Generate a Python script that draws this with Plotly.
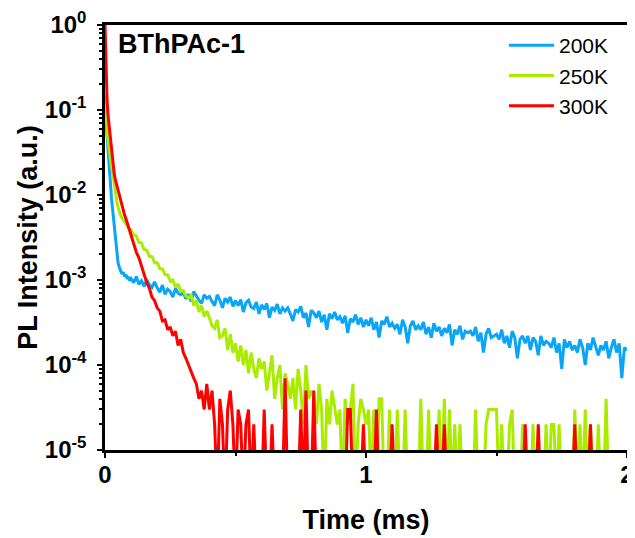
import numpy as np
import plotly.graph_objects as go

# time axis (ms): dense sampling for the fast part, then 10 us steps
t_early = [0, 0.004, 0.008, 0.012, 0.016, 0.02, 0.025, 0.03, 0.035, 0.04,
           0.045, 0.05, 0.055, 0.06, 0.065, 0.07, 0.075, 0.08, 0.085, 0.09, 0.095]
t_tail = np.round(np.arange(0.10, 2.001, 0.01), 2)

# normalised PL intensity in units of 1e-5 (0 = below detection floor)
blue_early = [11000, 7000, 4800, 3500, 2300, 1500, 900, 620, 420, 300,
              200, 160, 140, 128, 118, 124, 110, 116, 103, 109, 98]
blue_tail = [
    104, 93, 110, 89, 98, 84, 101, 88, 82, 95,
    81, 72, 87, 68, 78, 73, 63, 80, 70, 67,
    71, 60, 68, 56, 73, 64, 58, 53, 67, 61,
    64, 56, 50, 67, 58, 47, 61, 55, 63, 49,
    57, 50, 59, 42, 54, 58, 48, 46, 55, 40,
    51, 45, 53, 36, 48, 44, 52, 40, 47, 43,
    47, 40, 33, 45, 42, 49, 36, 41, 28, 44,
    41, 36, 43, 32, 39, 26, 40, 35, 42, 34,
    37, 31, 38, 24, 35, 32, 39, 30, 36, 28,
    34, 29, 36, 26, 32, 21, 33, 30, 37, 28,
    31, 27, 30, 23, 34, 28, 18, 29, 33, 26,
    29, 26, 32, 23, 28, 21, 31, 25, 28, 22,
    27, 24, 30, 17, 26, 23, 29, 20, 25, 24,
    25, 22, 28, 19, 24, 14, 23, 27, 21, 22,
    23, 20, 26, 18, 22, 16, 25, 21, 12, 20,
    22, 18, 22, 15, 21, 19, 13, 22, 17, 19,
    18, 16, 21, 14, 18, 9, 20, 16, 19, 15,
    17, 14, 20, 16, 10, 18, 15, 21, 16, 13,
    17, 15, 19, 12, 16, 20, 14, 18, 7, 16,
    15,
]

green_early = [15000, 8500, 5800, 4300, 3300, 2600, 2100, 1800, 1350, 1050,
               850, 720, 630, 575, 540, 510, 480, 455, 430, 410, 390]
green_tail = [
    392, 338, 330, 276, 272, 228, 224, 190, 188, 160,
    160, 136, 135, 116, 115, 97, 100, 82, 90, 74,
    75, 65, 62, 66, 50, 58, 42, 50, 37, 43,
    36, 29, 27, 34, 21, 22, 27, 15, 23, 14,
    18, 11, 17, 10, 15, 8, 14, 9, 7, 12,
    9, 11, 5, 8, 13, 4, 7, 10, 3, 8,
    6, 4, 7, 3, 9, 5, 2, 10, 4, 5,
    4, 2, 6, 3, 0, 4, 2, 5, 3, 2,
    3, 0, 4, 2, 3, 6, 0, 2, 4, 3,
    2, 3, 0, 3, 0, 4, 4, 0, 0, 3,
    0, 0, 3, 0, 0, 3, 0, 0, 0, 0,
    0, 4, 0, 0, 3, 0, 0, 0, 3, 0,
    4, 0, 3, 0, 2, 0, 2, 0, 0, 0,
    0, 0, 3, 0, 0, 0, 2, 3, 3, 3,
    3, 0, 2, 0, 0, 2, 3, 0, 0, 0,
    2, 0, 0, 0, 2, 0, 0, 0, 0, 2,
    0, 2, 2, 0, 2, 0, 0, 0, 0, 0,
    3, 0, 2, 0, 3, 0, 2, 0, 0, 2,
    0, 0, 4, 0, 0, 0, 0, 0, 0, 0, 0,
]

red_early = [100000, 28000, 13000, 8500, 6300, 5000, 3600, 2300, 1800, 1500,
             1300, 1120, 960, 830, 720, 640, 580, 530, 470, 410, 360]
red_tail = [
    330, 268, 212, 182, 146, 122, 93, 80, 63, 57,
    47, 43, 33, 34, 26, 28, 22, 25, 17, 20,
    14, 12, 10, 8, 7, 6, 4, 5, 3, 6,
    3, 5, 2, 0, 4, 2, 0, 3, 5, 2,
    0, 3, 2, 0, 2, 3, 0, 2, 0, 0,
    0, 3, 0, 0, 2, 0, 0, 0, 0, 7,
    0, 0, 0, 0, 0, 3, 0, 5, 0, 0,
    5, 0, 0, 0, 0, 0, 0, 0, 0, 0,
    0, 0, 0, 3, 3, 0, 0, 0, 0, 2,
    0, 0, 0, 0, 3, 0, 0, 0, 0, 0,
    2, 0, 0, 0, 0, 0, 0, 0, 0, 0,
    0, 0, 0, 0, 0, 0, 0, 2, 0, 0,
    2, 0, 0, 0, 0, 0, 0, 0, 0, 0,
    0, 0, 0, 0, 0, 0, 0, 0, 0, 0,
    0, 0, 0, 0, 0, 0, 0, 0, 0, 0,
    0, 2, 0, 0, 0, 0, 2, 0, 0, 0,
    0, 0, 0, 0, 0, 0, 0, 0, 0, 0,
    2, 0, 0, 0, 0, 0, 2, 0, 0, 0,
    0, 0, 0, 0, 0, 0, 0, 0, 0, 0, 0,
]

series_names = ["200K", "250K", "300K"]
series_colors = ["#0AA5F7", "#A9EC00", "#FF0000"]

t = np.concatenate([t_early, t_tail])


def to_intensity(early, tail):
    c = np.array(early + tail, dtype=float)
    # zero counts are drawn below the axis floor (clipped), like the original plot
    c[c <= 0] = 0.3
    return c * 1e-5


fig = go.Figure()
for name, color, early, tail in zip(series_names, series_colors,
                                    [blue_early, green_early, red_early],
                                    [blue_tail, green_tail, red_tail]):
    fig.add_trace(go.Scatter(x=t, y=to_intensity(early, tail), mode="lines", name=name,
                             line=dict(color=color, width=3)))

ytick_vals = [10.0 ** k for k in range(-5, 1)]
ytick_text = ["10<sup>%d</sup>" % k for k in range(-5, 1)]
yminor = [m * 10.0 ** k for k in range(-5, 0) for m in range(2, 10)]

font_family = "Liberation Sans, Arial, sans-serif"

# the page body adds an 8px offset, so the figure is a bit smaller than the window
fig.update_layout(
    width=627, height=530,
    margin=dict(l=97, r=8, t=17, b=88),
    paper_bgcolor="white", plot_bgcolor="white",
    font=dict(family=font_family, color="black"),
    showlegend=True,
    legend=dict(x=0.975, y=1.0, xanchor="right", yanchor="top",
                bgcolor="rgba(0,0,0,0)", font=dict(size=21),
                tracegroupgap=0, itemwidth=45),
    annotations=[dict(text="<b>BThPAc-1</b>", x=0.022, y=0.995, xref="paper", yref="paper",
                      xanchor="left", yanchor="top", showarrow=False,
                      font=dict(size=27, color="black"))],
)

fig.update_xaxes(
    range=[0, 2], tickvals=[0, 1, 2], ticktext=["0", "1", "2"],
    ticks="outside", ticklen=5, tickwidth=2, tickcolor="black",
    minor=dict(tickvals=[0.5, 1.5], ticks="outside", ticklen=3, tickwidth=2, tickcolor="black"),
    showline=True, linewidth=2.5, linecolor="black", mirror=True,
    showgrid=False, zeroline=False, automargin=False,
    tickfont=dict(size=24, weight="bold"), ticklabelstandoff=-4,
    title=dict(text="Time (ms)", font=dict(size=27, weight="bold"), standoff=24),
)

fig.update_yaxes(
    type="log", range=[-5, 0],
    tickvals=ytick_vals, ticktext=ytick_text,
    ticks="outside", ticklen=5, tickwidth=2, tickcolor="black",
    minor=dict(tickvals=yminor, ticks="outside", ticklen=3, tickwidth=1.5, tickcolor="black"),
    showline=True, linewidth=2.5, linecolor="black", mirror=True,
    showgrid=False, zeroline=False, automargin=False,
    tickfont=dict(size=24, weight="bold"), ticklabelstandoff=6,
    title=dict(text="PL Intensity (a.u.)", font=dict(size=27, weight="bold"), standoff=0),
)

fig.write_html("out.html")
